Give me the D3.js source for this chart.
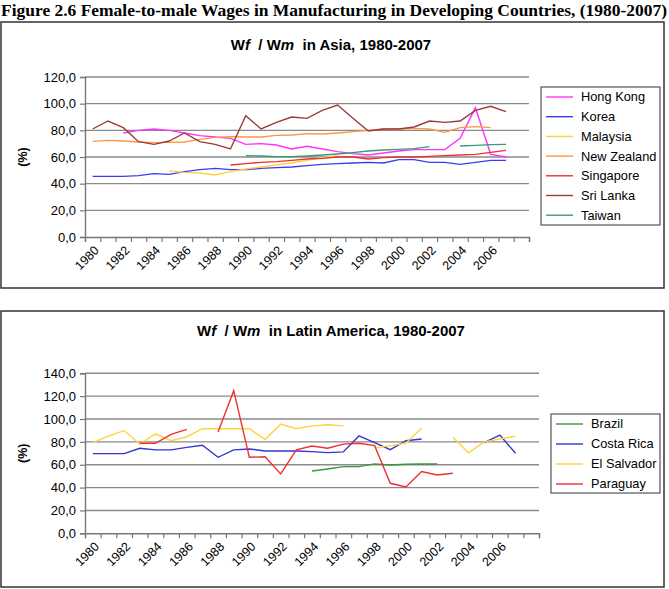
<!DOCTYPE html>
<html lang="en">
<head>
<meta charset="utf-8">
<title>Female-to-male Wages in Manufacturing</title>
<script src="https://d3js.org/d3.v7.min.js"></script>
<style>
  body { margin: 0; background: #fff; }
  svg { display: block; }
  text { font-family: "Liberation Sans", Arial, sans-serif; fill: #000; }
  .figtitle { font-family: "Liberation Serif", "Times New Roman", serif; font-weight: bold; font-size: 17px; }
  .ctitle { font-weight: bold; font-size: 15px; white-space: pre; }
  .tick text { font-size: 13px; }
  .ylab { font-weight: bold; font-size: 12.5px; }
  .xlab { font-size: 12.5px; }
  .legend text { font-size: 12.8px; }
</style>
</head>
<body>
<svg width="669" height="589"></svg>
<script>
// categories (last one is an empty slot, as in the original axis)
const years = ["1980","1981","1982","1983","1984","1985","1986","1987","1988","1989",
  "1990","1991","1992","1993","1994","1995","1996","1997","1998","1999",
  "2000","2001","2002","2003","2004","2005","2006","2007","2008"];
const xTickLabels = ["1980","1982","1984","1986","1988","1990","1992","1994","1996","1998","2000","2002","2004","2006"];

// ---- Asia, values 1980..2007 (null = no data)
const hongKong   = [null,null,78,80,81,80,78,76,75,74,69.5,70,69,66,68,66,64,62.5,61.5,63,64.5,65.5,65.5,65.5,74,97,62,60];
const korea      = [45.5,45.5,45.5,46,47.5,47,49,50.5,51.5,50.5,50.5,51.5,52,52.5,53.5,54.5,55,55.5,56,55.5,58,58,56,56,54.5,56,57.5,57.5];
const malaysia   = [null,null,null,null,null,49.5,48.5,48,46.5,49,51,52.5,54,55.5,57.5,59.5,61,null,null,null,null,null,null,null,null,null,null,null];
const newZealand = [71.75,72.5,72,71.25,70.75,71,71.25,73.25,74.75,75.25,75,75,76.25,76.5,77.5,77.25,78,79,80,81,81,81.5,81,78.5,82,82.75,82,null];
const singapore  = [null,null,null,null,null,null,null,null,null,54,55,56,56.5,57.5,58.5,59,60,60,58.5,59.5,60,60,60.5,61,61.5,62,63.5,65];
const sriLanka   = [81,87,82,71.5,69.5,72,78,71.5,69.5,66,91,81,86,90,89,95,99,89,79.5,81,81,82.5,87,86,87,95,98,94];
const taiwan     = [null,null,null,null,null,null,null,null,null,null,61,60.75,60.25,60.25,60.75,61.5,62.25,63.25,64.5,65.25,65.75,66.25,67.75,null,68.25,68.75,69.25,69.5];
const asiaTicks  = [0,20,40,60,80,100,120];

// ---- Latin America, values 1980..2007
const brazil     = [null,null,null,null,null,null,null,null,null,null,null,null,null,null,54.5,56.3,58.3,58.3,60.7,59.8,60.4,60.7,60.7,null,null,null,null,null];
const costaRica  = [69.7,69.7,69.7,74.4,73,73,75.2,77,66.5,73,73.8,72,72,72,71.5,70.6,71.2,85.2,79.3,73.2,81,82.5,null,null,null,79.3,86,70];
const elSalvador = [79.3,85,90,78,87,81,84.5,91.5,91.5,91.5,91.5,82,95.5,91.5,94,95,94,null,75,76.5,79,92,null,84,70.5,80,82.5,85];
const paraguay   = [null,null,null,78.75,78.75,86.6,91,null,88.7,124.8,66.5,67,52,73,76.4,74.4,78,78.75,76.7,43.75,40.5,54,51,52.5,null,null,null,null];
const latamTicks = [0,20,40,60,80,100,120,140];

const svg = d3.select("svg");

// figure caption
svg.append("text")
  .attr("class", "figtitle")
  .attr("x", 1).attr("y", 16)
  .attr("textLength", 666).attr("lengthAdjust", "spacingAndGlyphs")
  .text("Figure 2.6 Female-to-male Wages in Manufacturing in Developing Countries, (1980-2007)");

function drawChart(opt) {
  const g = svg.append("g");

  // outer frame
  g.append("rect")
    .attr("x", 1).attr("y", opt.frame[0])
    .attr("width", 663).attr("height", opt.frame[1] - opt.frame[0])
    .attr("fill", "none").attr("stroke", "#333").attr("stroke-width", 1.5);

  // title:  Wf / Wm in ...
  const t = g.append("text").attr("class", "ctitle")
    .attr("x", 331).attr("y", opt.titleY).attr("text-anchor", "middle");
  t.append("tspan").text("W");
  t.append("tspan").attr("font-style", "italic").text("f");
  t.append("tspan").text("  / W");
  t.append("tspan").attr("font-style", "italic").text("m");
  t.append("tspan").text("  " + opt.title);

  const y = d3.scaleLinear().domain([0, d3.max(opt.yTicks)]).range([opt.bottom, opt.top]);
  const xb = d3.scaleLinear().domain([0, years.length]).range([85, opt.right]);
  const x = d3.scaleBand().domain(years).range([85, opt.right]);
  const cx = yr => x(yr) + x.bandwidth() / 2;

  // gridlines
  g.append("g").selectAll("line")
    .data(opt.yTicks.filter(d => d > 0))
    .join("line")
    .attr("x1", 85).attr("x2", opt.right)
    .attr("y1", d => y(d)).attr("y2", d => y(d))
    .attr("stroke", "#8a8a8a").attr("stroke-width", 1.4);

  // y axis
  const ya = g.append("g").attr("transform", "translate(85,0)")
    .call(d3.axisLeft(y).tickValues(opt.yTicks).tickSize(5).tickPadding(4)
      .tickFormat(d => d.toFixed(1).replace(".", ",")));
  ya.select(".domain").attr("stroke", "#777").attr("stroke-width", 1.4);
  ya.selectAll(".tick line").attr("stroke", "#777").attr("stroke-width", 1.2);

  // x axis: ticks between categories
  const xa = g.append("g").attr("transform", "translate(0," + opt.bottom + ")")
    .call(d3.axisBottom(xb).tickValues(d3.range(0, years.length + 1)).tickSize(5).tickFormat(""));
  xa.select(".domain").attr("stroke", "#777").attr("stroke-width", 1.4);
  xa.selectAll(".tick line").attr("stroke", "#777").attr("stroke-width", 1.2);

  // rotated year labels
  g.append("g").selectAll("text")
    .data(xTickLabels)
    .join("text")
    .attr("class", "xlab")
    .attr("text-anchor", "end")
    .attr("transform", d => "translate(" + (cx(d) + 4) + "," + (opt.bottom + 11) + ") rotate(-45)")
    .attr("dy", "0.35em")
    .text(d => d);

  // y label
  g.append("text").attr("class", "ylab")
    .attr("text-anchor", "middle")
    .attr("transform", "translate(27," + (opt.top + opt.bottom) / 2 + ") rotate(-90)")
    .text("(%)");

  // series lines
  const line = d3.line()
    .defined(d => d.v != null)
    .x(d => cx(d.yr))
    .y(d => y(d.v));

  opt.series.forEach(s => {
    const pts = s.values.map((v, i) => ({ yr: years[i], v: v }));
    g.append("path")
      .attr("d", line(pts))
      .attr("fill", "none")
      .attr("stroke", s.color)
      .attr("stroke-width", 1.4);
  });

  // legend
  const L = opt.legend;
  const lg = g.append("g").attr("class", "legend");
  lg.append("rect")
    .attr("x", L.x).attr("y", L.y)
    .attr("width", L.w).attr("height", L.h)
    .attr("fill", "#fff").attr("stroke", "#555").attr("stroke-width", 1.2);
  const item = lg.selectAll("g.item").data(opt.series).join("g")
    .attr("class", "item")
    .attr("transform", (d, i) => "translate(" + (L.x + 5) + "," + (L.y + 10 + i * L.step) + ")");
  item.append("line").attr("x1", 0).attr("x2", 27)
    .attr("stroke", d => d.color).attr("stroke-width", 1.4);
  item.append("text").attr("x", 35).attr("dy", "0.35em").text(d => d.name);
}

drawChart({
  frame: [22, 288],
  title: "in Asia, 1980-2007",
  titleY: 50,
  top: 77, bottom: 237, right: 529,
  yTicks: asiaTicks,
  legend: { x: 541, y: 87, w: 119, h: 138, step: 19.7 },
  series: [
    { name: "Hong Kong",   values: hongKong,   color: "#ff33ff" },
    { name: "Korea",       values: korea,      color: "#3b3bf5" },
    { name: "Malaysia",    values: malaysia,   color: "#ffd23f" },
    { name: "New Zealand", values: newZealand, color: "#ff9640" },
    { name: "Singapore",   values: singapore,  color: "#f03030" },
    { name: "Sri Lanka",   values: sriLanka,   color: "#9c3a3a" },
    { name: "Taiwan",      values: taiwan,     color: "#3a9a78" }
  ]
});

drawChart({
  frame: [311, 587],
  title: "in Latin America, 1980-2007",
  titleY: 336,
  top: 373.3, bottom: 533.3, right: 539,
  yTicks: latamTicks,
  legend: { x: 551, y: 414, w: 109, h: 79, step: 20 },
  series: [
    { name: "Brazil",      values: brazil,     color: "#3a963a" },
    { name: "Costa Rica",  values: costaRica,  color: "#3535d0" },
    { name: "El Salvador", values: elSalvador, color: "#ffd23f" },
    { name: "Paraguay",    values: paraguay,   color: "#f03030" }
  ]
});
</script>
</body>
</html>
